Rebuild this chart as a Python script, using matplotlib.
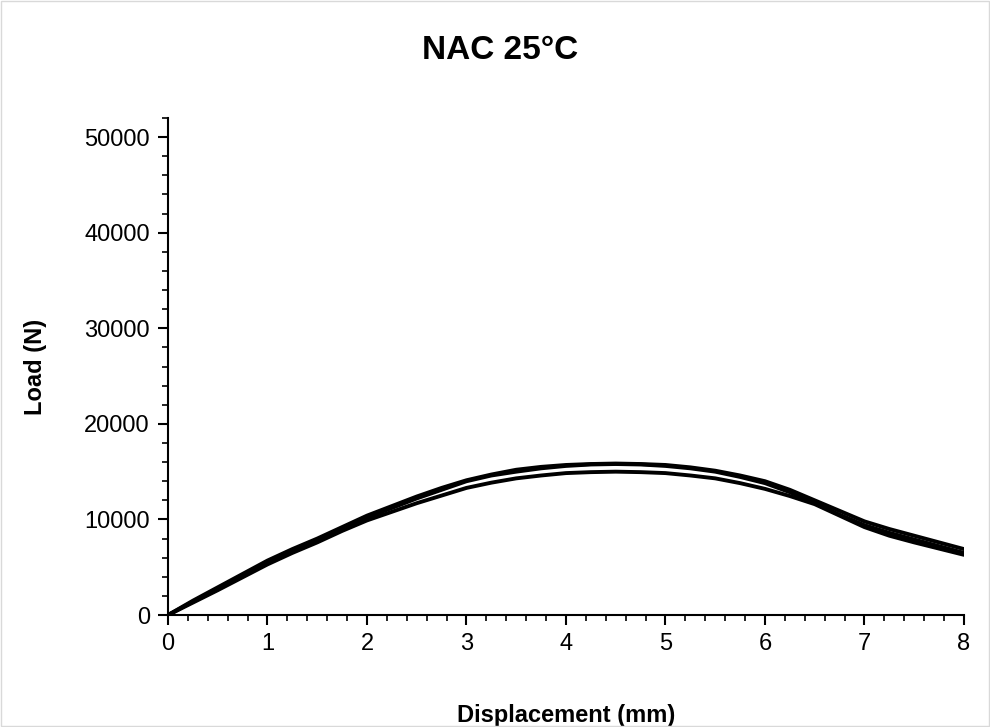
import matplotlib
matplotlib.use("Agg")
import matplotlib.pyplot as plt
from matplotlib.ticker import MultipleLocator
from matplotlib.patches import Rectangle

plt.rcParams['font.family'] = ['Liberation Sans', 'DejaVu Sans']

# displacement (mm)
disp = [0, 0.25, 0.5, 0.75, 1.0, 1.25, 1.5, 1.75, 2.0, 2.25, 2.5, 2.75, 3.0, 3.25, 3.5,
        3.75, 4.0, 4.25, 4.5, 4.75, 5.0, 5.25, 5.5, 5.75, 6.0, 6.25, 6.5, 6.75, 7.0,
        7.25, 7.5, 7.75, 8.0]

# load (N) for the three specimens
load_a = [0, 1500, 2900, 4300, 5700, 6900, 8000, 9200, 10400, 11400, 12400, 13300, 14100, 14700,
          15200, 15500, 15700, 15800, 15850, 15800, 15700, 15450, 15100, 14600, 14000, 13100,
          12000, 10900, 9800, 9000, 8300, 7600, 6900]
load_b = [0, 1400, 2700, 4100, 5500, 6700, 7800, 9000, 10200, 11200, 12200, 13100, 14000, 14600,
          15000, 15350, 15600, 15750, 15800, 15750, 15600, 15350, 15000, 14450, 13800, 12850,
          11700, 10500, 9400, 8600, 7900, 7200, 6500]
load_c = [0, 1300, 2600, 3950, 5300, 6500, 7600, 8800, 9900, 10800, 11700, 12500, 13300, 13850,
          14300, 14600, 14850, 14950, 15000, 14950, 14850, 14600, 14300, 13800, 13200, 12450,
          11600, 10400, 9200, 8300, 7600, 6950, 6300]

fig = plt.figure(figsize=(9.9, 7.27), dpi=100)
ax = fig.add_axes([0.1697, 0.154, 0.804, 0.6837])

for ld in (load_a, load_b, load_c):
    ax.plot(disp, ld, color='black', linewidth=2.8, solid_capstyle='round')

ax.set_xlim(0, 8)
ax.set_ylim(0, 52000)
ax.xaxis.set_major_locator(MultipleLocator(1))
ax.xaxis.set_minor_locator(MultipleLocator(0.2))
ax.yaxis.set_major_locator(MultipleLocator(10000))
ax.yaxis.set_minor_locator(MultipleLocator(2000))

for s in ('top', 'right'):
    ax.spines[s].set_visible(False)
for s in ('left', 'bottom'):
    ax.spines[s].set_linewidth(1.5)

ax.tick_params(which='major', direction='out', length=7, width=1.5, labelsize=17, pad=6)
ax.tick_params(which='minor', direction='out', length=4, width=1.2)

ax.set_xlabel('Displacement (mm)', fontsize=17, fontweight='bold', labelpad=35)
ax.set_ylabel('Load (N)', fontsize=17, fontweight='bold', labelpad=27)
fig.text(0.505, 0.931, 'NAC 25°C', ha='center', va='center', fontsize=24, fontweight='bold')

fig.patches.append(Rectangle((0.001, 0.001), 0.998, 0.998, transform=fig.transFigure,
                             fill=False, edgecolor='#d9d9d9', linewidth=1))

fig.savefig('out.png', dpi=100)
